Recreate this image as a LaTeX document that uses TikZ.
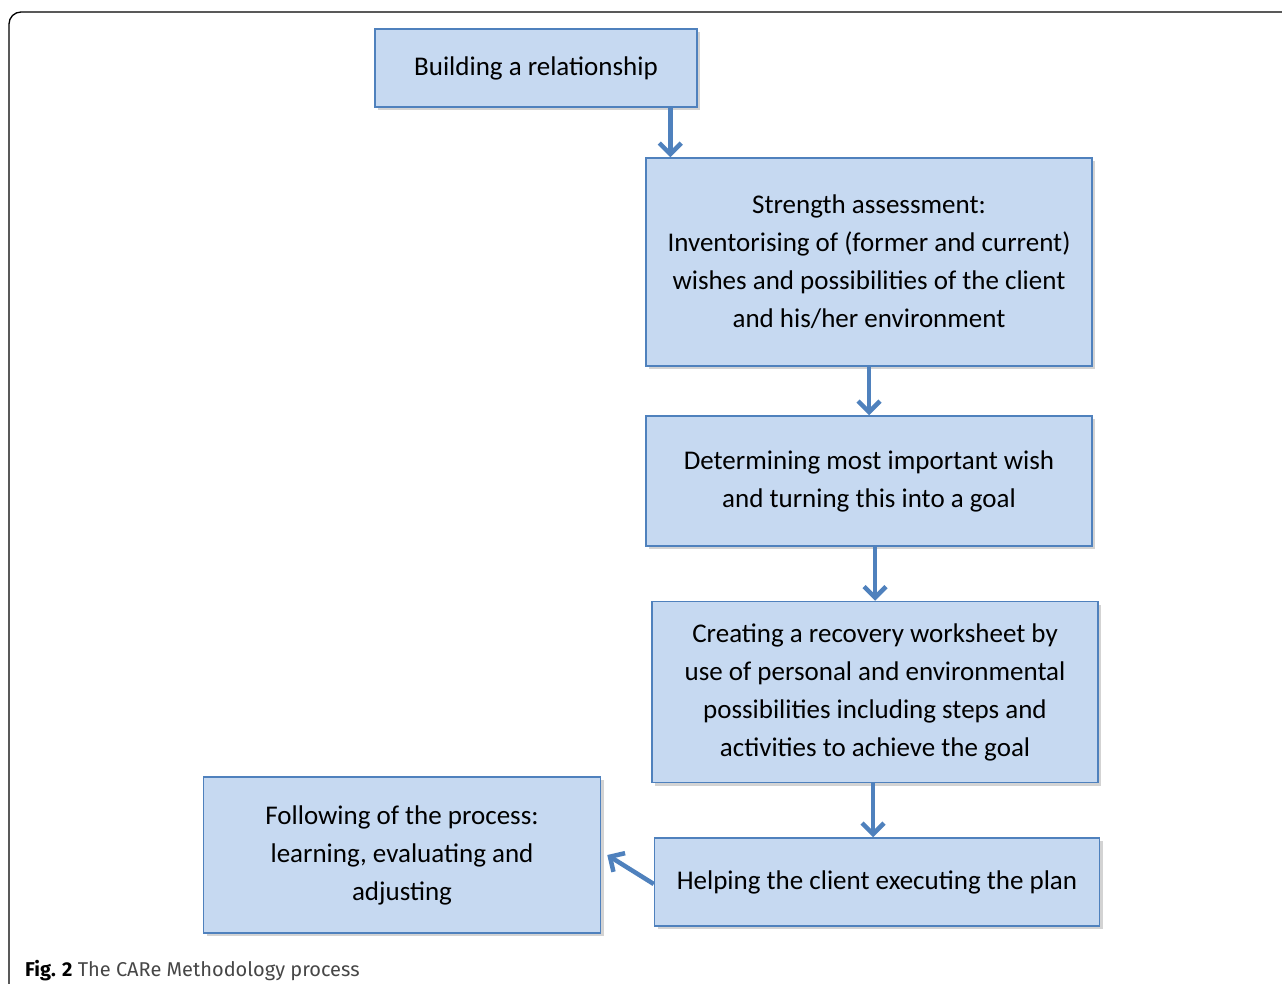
\documentclass[tikz,border=0pt]{standalone}
\usepackage{fontspec}
\setmainfont{Carlito}
\newfontfamily\capfont{Fira Sans}
\usetikzlibrary{arrows.meta,shadows}
\definecolor{boxfill}{RGB}{198,217,241}
\definecolor{boxline}{RGB}{79,129,189}
\definecolor{capgray}{RGB}{70,70,70}
\tikzset{
  stage/.style={draw=boxline, line width=1.5pt, fill=boxfill, align=center, inner sep=0pt,
    font=\fontsize{27}{38}\selectfont,
    drop shadow={shadow xshift=3pt, shadow yshift=-3pt, opacity=0.35}},
  flow/.style={draw=boxline, line width=4.5pt, -{Straight Barb[length=11pt,width=22pt]}}
}

\begin{document}
\begin{tikzpicture}[x=1pt,y=-1pt]
		%%%%% START %%%%%
		\useasboundingbox (0,0) rectangle (1282,984);
		\draw[line width=1.3pt, rounded corners=12pt] (9,984) -- (9,12) -- (1282,12);
		
		\node[stage, minimum width=322pt, minimum height=78pt] (build) at (536,68) {Building a relationship};
		\node[stage, minimum width=446pt, minimum height=208pt] (strength) at (869,262)
			{Strength assessment:\\ Inventorising of (former and current)\\ wishes and possibilities of the client\\ and his/her environment};
		\node[stage, minimum width=446pt, minimum height=130pt] (wish) at (869,481)
			{Determining most important wish\\ and turning this into a goal};
		\node[stage, minimum width=446pt, minimum height=181pt] (sheet) at (875,692)
			{Creating a recovery worksheet by\\ use of personal and environmental\\ possibilities including steps and\\ activities to achieve the goal};
		\node[stage, minimum width=445pt, minimum height=88pt] (help) at (877,882) {Helping the client executing the plan};
		\node[stage, minimum width=397pt, minimum height=156pt] (follow) at (402,855)
			{Following of the process:\\ learning, evaluating and\\ adjusting};
		
		\draw[flow] ([xshift=25pt]strength.north west |- build.south) -- ([xshift=25pt]strength.north west);
		\draw[flow] (strength.south) -- (wish.north);
		\draw[flow] (sheet.north |- wish.south) -- (sheet.north);
		\draw[flow] ([xshift=-2pt]sheet.south) -- ([xshift=-2pt]sheet.south |- help.north);
		\draw[flow] ([yshift=-2pt]help.west) -- ([xshift=6pt]follow.east);
		
		\node[anchor=base west, inner sep=0pt, font=\capfont\fontsize{20}{22}\selectfont] (cap) at (25,976)
			{\textbf{Fig. 2} \textcolor{capgray}{The CARe Methodology process}};
		%%%%% END %%%%%
\end{tikzpicture}
\end{document}
